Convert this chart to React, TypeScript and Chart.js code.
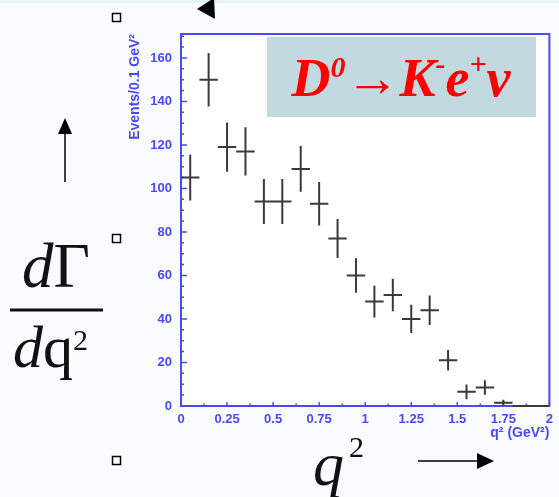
import React, { useEffect, useRef } from "react";
import { Chart, registerables } from "chart.js";

Chart.register(...registerables);

// ---- data ----
const binCenters = [0.05, 0.15, 0.25, 0.35, 0.45, 0.55, 0.65, 0.75, 0.85, 0.95, 1.05, 1.15, 1.25, 1.35, 1.45, 1.55, 1.65, 1.75, 1.85, 1.95];
const events = [105, 150, 119, 117, 94, 94, 109, 93, 77, 60, 48, 51, 40, 44, 21, 6.5, 8.5, 1.5, 0, 0];
const errors = [10.5, 12.3, 11.3, 11.1, 10.3, 10.3, 10.5, 10, 9, 7.9, 7.3, 7.5, 6.5, 6.8, 4.7, 3.4, 3.3, 1.4, 0, 0];
const binHalfWidth = 0.05;

const xTickValues = [0, 0.25, 0.5, 0.75, 1, 1.25, 1.5, 1.75, 2];
const xTickLabels = ["0", "0.25", "0.5", "0.75", "1", "1.25", "1.5", "1.75", "2"];
const xMinorValues = [0.125, 0.375, 0.625, 0.875, 1.125, 1.375, 1.625, 1.875];
const yTickValues = [0, 20, 40, 60, 80, 100, 120, 140, 160];
const yTickLabels = ["0", "20", "40", "60", "80", "100", "120", "140", "160"];
const yMinorValues = [5, 10, 15, 25, 30, 35, 45, 50, 55, 65, 70, 75, 85, 90, 95, 105, 110, 115, 125, 130, 135, 145, 150, 155, 165, 170];
const xMin = 0;
const xMax = 2;
const yMin = 0;
const yMax = 171;

const xTitle = "q² (GeV²)";
const yTitle = "Events/0.1 GeV²";

const BLUE = "rgb(72,72,255)";
const MARK = "#3a3a3a";

const hepPlugin = {
  id: "hepStyle",
  beforeDraw(chart: any) {
    const { ctx, chartArea: a } = chart;
    ctx.save();
    ctx.fillStyle = "#ffffff";
    ctx.fillRect(a.left, a.top, a.right - a.left, a.bottom - a.top);
    ctx.restore();
  },
  beforeDatasetsDraw(chart: any) {
    const { ctx, chartArea: a, scales } = chart;
    const xs = scales.x;
    const ys = scales.y;
    ctx.save();
    ctx.strokeStyle = BLUE;
    ctx.lineWidth = 2;
    ctx.beginPath();
    ctx.moveTo(a.left, a.top);
    ctx.lineTo(a.right, a.top);
    ctx.lineTo(a.right, a.bottom);
    ctx.stroke();
    ctx.lineWidth = 1.5;
    ctx.beginPath();
    yTickValues.forEach((v) => {
      const p = ys.getPixelForValue(v);
      ctx.moveTo(a.left, p);
      ctx.lineTo(a.left + 6, p);
    });
    yMinorValues.forEach((v) => {
      const p = ys.getPixelForValue(v);
      ctx.moveTo(a.left, p);
      ctx.lineTo(a.left + 3, p);
    });
    xTickValues.forEach((v) => {
      const p = xs.getPixelForValue(v);
      ctx.moveTo(p, a.bottom);
      ctx.lineTo(p, a.bottom - 4);
    });
    xMinorValues.forEach((v) => {
      const p = xs.getPixelForValue(v);
      ctx.moveTo(p, a.bottom);
      ctx.lineTo(p, a.bottom - 2.5);
    });
    ctx.stroke();
    ctx.restore();
  },
  afterDatasetsDraw(chart: any) {
    const { ctx, scales } = chart;
    const xs = scales.x;
    const ys = scales.y;
    ctx.save();
    ctx.strokeStyle = MARK;
    ctx.lineWidth = 2;
    ctx.beginPath();
    binCenters.forEach((x, i) => {
      const y = events[i];
      const e = errors[i];
      const px = xs.getPixelForValue(x);
      const py = ys.getPixelForValue(y);
      if (e > 0) {
        ctx.moveTo(px, ys.getPixelForValue(y + e));
        ctx.lineTo(px, ys.getPixelForValue(y - e));
      }
      ctx.moveTo(xs.getPixelForValue(x - binHalfWidth), py);
      ctx.lineTo(xs.getPixelForValue(x + binHalfWidth), py);
    });
    ctx.stroke();
    ctx.restore();
  },
};

const tickFont = { family: "'Liberation Sans', Arial, sans-serif", size: 13, weight: "bold" as const };
const titleFont = { family: "'Liberation Sans', Arial, sans-serif", size: 14, weight: "bold" as const };

export default function App() {
  const ref = useRef<HTMLCanvasElement>(null);

  useEffect(() => {
    const canvas = ref.current;
    if (!canvas) return;
    const chart = new Chart(canvas, {
      type: "scatter",
      data: {
        datasets: [
          {
            data: binCenters.map((x, i) => ({ x, y: events[i] })),
            pointRadius: 0,
            showLine: false,
            clip: false as any,
          },
        ],
      },
      options: {
        responsive: false,
        animation: false,
        devicePixelRatio: 1,
        layout: { padding: { left: 127, top: 34, right: 4, bottom: 51 } },
        plugins: { legend: { display: false }, tooltip: { enabled: false } },
        scales: {
          x: {
            type: "linear",
            min: xMin,
            max: xMax,
            afterBuildTicks: (s: any) => {
              s.ticks = xTickValues.map((v) => ({ value: v }));
            },
            afterFit: (s: any) => {
              s.height = 40;
            },
            ticks: {
              callback: (_v: any, i: number) => xTickLabels[i],
              font: tickFont,
              color: BLUE,
              padding: 6,
              maxRotation: 0,
              autoSkip: false,
            },
            grid: { color: "rgba(0,0,0,0)", drawTicks: false },
            border: { color: BLUE, width: 2 },
            title: {
              display: true,
              text: xTitle,
              align: "end",
              font: titleFont,
              color: BLUE,
              padding: { top: 0, bottom: 4 },
            },
          },
          y: {
            type: "linear",
            min: yMin,
            max: yMax,
            afterBuildTicks: (s: any) => {
              s.ticks = yTickValues.map((v) => ({ value: v }));
            },
            afterFit: (s: any) => {
              s.width = 54;
            },
            ticks: {
              callback: (_v: any, i: number) => yTickLabels[i],
              font: tickFont,
              color: BLUE,
              padding: 9,
              autoSkip: false,
            },
            grid: { color: "rgba(0,0,0,0)", drawTicks: false },
            border: { color: BLUE, width: 2 },
            title: {
              display: true,
              text: yTitle,
              align: "end",
              font: titleFont,
              color: BLUE,
              padding: { top: 0, bottom: 0 },
            },
          },
        },
      } as any,
      plugins: [hepPlugin],
    });
    return () => chart.destroy();
  }, []);

  const serif = "'Liberation Serif', 'Times New Roman', serif";

  return (
    <div
      style={{
        position: "fixed",
        left: 0,
        top: 0,
        width: 559,
        height: 497,
        background: "#f9fbfd",
        overflow: "hidden",
      }}
    >
      <canvas
        ref={ref}
        width={559}
        height={497}
        style={{ position: "absolute", left: 0, top: 0, width: 559, height: 497 }}
      />
      <svg
        width={559}
        height={497}
        style={{ position: "absolute", left: 0, top: 0, pointerEvents: "none" }}
      >
        <rect x={0} y={0} width={559} height={3} fill="#e6f3fa" />
        <rect x={112.5} y={13.5} width={8} height={8} fill="#fff" stroke="#000" strokeWidth={1.5} />
        <rect x={112.5} y={234.5} width={8} height={8} fill="#fff" stroke="#000" strokeWidth={1.5} />
        <rect x={112.5} y={456.5} width={8} height={8} fill="#fff" stroke="#000" strokeWidth={1.5} />
        <polygon points="197,9 214,-2 215,19" fill="#000" />
        <line x1={65} y1={182} x2={65} y2={132} stroke="#000" strokeWidth={1.5} />
        <polygon points="65,118 58,134 72,134" fill="#000" />
        <line x1={418} y1={461} x2={480} y2={461} stroke="#000" strokeWidth={1.5} />
        <polygon points="494,461 477,453 477,469" fill="#000" />
        <rect x={267} y={37} width={269} height={80} fill="#c1d9df" />
        <text
          x={401}
          y={96}
          textAnchor="middle"
          fontFamily={serif}
          fontWeight="bold"
          fontStyle="italic"
          fontSize={54}
          fill="#ff0000"
        >
          D
          <tspan dy={-19} fontSize={30}>0</tspan>
          <tspan dy={19} fontStyle="normal" fontWeight="normal">→</tspan>
          K
          <tspan dy={-22} fontSize={30}>-</tspan>
          <tspan dy={22}>e</tspan>
          <tspan dy={-22} fontSize={30}>+</tspan>
          <tspan dy={22}>ν</tspan>
        </text>
        <text x={22} y={287} fontFamily={serif} fontSize={63} fill="#111">
          <tspan fontStyle="italic">d</tspan>Γ
        </text>
        <rect x={10} y={308.5} width={93} height={3} fill="#111" />
        <text x={13} y={367} fontFamily={serif} fontSize={60} fill="#111">
          <tspan fontStyle="italic">d</tspan>q
          <tspan dy={-17} fontSize={30}>2</tspan>
        </text>
        <text x={313} y={485} fontFamily={serif} fontStyle="italic" fontSize={62} fill="#111">
          q
        </text>
        <text x={349} y={457} fontFamily={serif} fontSize={30} fill="#111">
          2
        </text>
      </svg>
    </div>
  );
}
